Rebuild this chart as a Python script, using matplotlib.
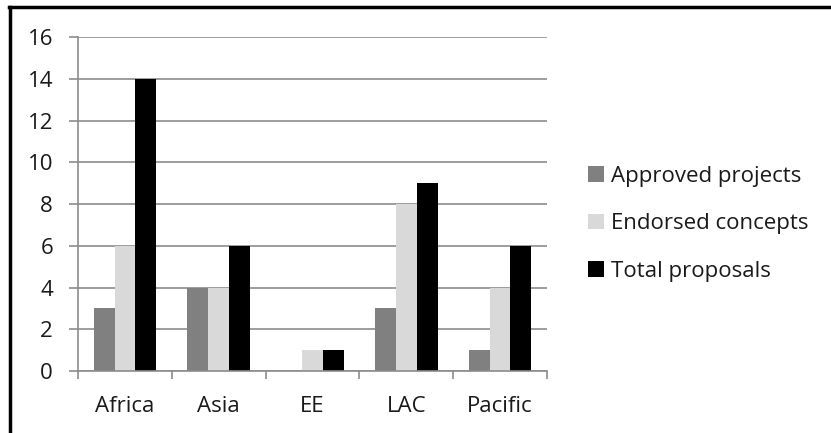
import matplotlib

matplotlib.use("Agg")
import matplotlib.pyplot as plt
import numpy as np
from matplotlib.lines import Line2D

regions = ["Africa", "Asia", "EE", "LAC", "Pacific"]
approved = [3, 4, 0, 3, 1]
endorsed = [6, 4, 1, 8, 4]
total = [14, 6, 1, 9, 6]

series = [
    ("Approved projects", approved, "#808080"),
    ("Endorsed concepts", endorsed, "#d9d9d9"),
    ("Total proposals", total, "#000000"),
]

plt.rcParams["font.family"] = ["Open Sans", "DejaVu Sans"]
plt.rcParams["font.size"] = 16

fig = plt.figure(figsize=(8.31, 4.33), dpi=100)
ax = fig.add_axes([0.0939, 0.1432, 0.5643, 0.7713])

x = np.arange(len(regions))
width = 1 / 4.5
for i, (label, vals, color) in enumerate(series):
    ax.bar(x + (i - 1) * width, vals, width, color=color, label=label, zorder=3)

grid_col = "#8c8c8c"
text_col = "#1a1a1a"
ax.set_xlim(-0.5, len(regions) - 0.5)
ax.set_ylim(0, 16)
ax.set_yticks(range(0, 17, 2))
ax.yaxis.grid(True, color=grid_col, linewidth=1.2, zorder=0)

# category separators as major ticks, names on minor ticks
ax.set_xticks(np.arange(-0.5, len(regions), 1.0))
ax.set_xticklabels([])
ax.set_xticks(x, minor=True)
ax.set_xticklabels(regions, minor=True)
ax.tick_params(axis="x", which="major", length=6, width=1.2, color=grid_col, direction="out")
ax.tick_params(axis="x", which="minor", length=0, pad=18, labelcolor=text_col)
ax.tick_params(axis="y", length=6.5, width=1.2, color=grid_col, pad=11.5, labelcolor=text_col)

for side in ("top", "right"):
    ax.spines[side].set_visible(False)
for side in ("left", "bottom"):
    ax.spines[side].set_color(grid_col)
    ax.spines[side].set_linewidth(1.2)
    ax.spines[side].set_zorder(4)

ax.legend(
    loc="center left",
    bbox_to_anchor=(0.707, 0.483),
    bbox_transform=fig.transFigure,
    frameon=False,
    handlelength=0.75,
    handleheight=0.7,
    handletextpad=0.32,
    labelspacing=1.2,
    borderaxespad=0,
    borderpad=0,
    labelcolor=text_col,
)

# outer frame, only top and left edges are visible
fig.add_artist(Line2D([9 / 831, 1], [1 - 7 / 433] * 2, color="black", linewidth=2.5, transform=fig.transFigure))
fig.add_artist(Line2D([10 / 831] * 2, [0, 1 - 7 / 433], color="black", linewidth=2.5, transform=fig.transFigure))

fig.savefig("out.png", dpi=100)
